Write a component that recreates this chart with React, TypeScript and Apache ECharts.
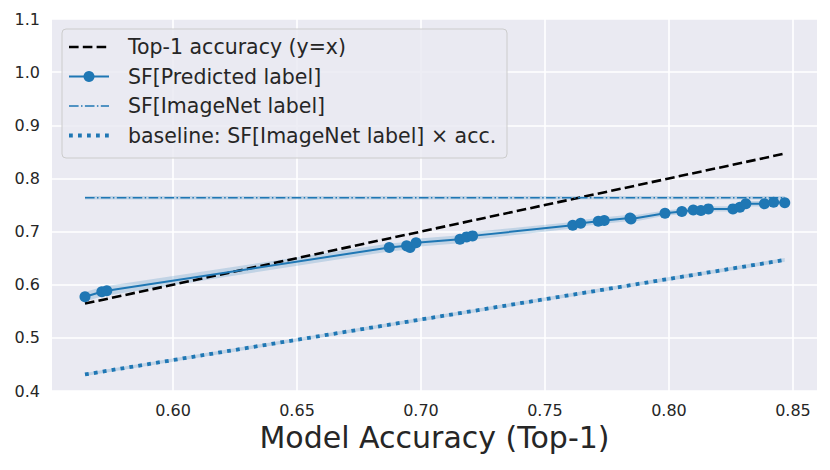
import React, { useEffect, useRef } from "react";
import * as echarts from "echarts";

// ---- data ----
const xTicks = [0.6, 0.65, 0.7, 0.75, 0.8, 0.85];
const yTicks = [0.4, 0.5, 0.6, 0.7, 0.8, 0.9, 1.0, 1.1];

const predX = [0.5645, 0.5713, 0.5733, 0.6872, 0.6942, 0.6956, 0.698, 0.7157, 0.7184, 0.7208, 0.7612, 0.7644, 0.7715, 0.7739, 0.7843, 0.7847, 0.7984, 0.8052, 0.8098, 0.8129, 0.8159, 0.8258, 0.8286, 0.831, 0.8385, 0.8422, 0.8467];
const predY = [0.5773, 0.5867, 0.5885, 0.6701, 0.6731, 0.6701, 0.6788, 0.6857, 0.69, 0.6919, 0.712, 0.7158, 0.7195, 0.7209, 0.7257, 0.7237, 0.7346, 0.7378, 0.7408, 0.7397, 0.7427, 0.7427, 0.7459, 0.7523, 0.7523, 0.7553, 0.7541];
const predLower = [0.5683, 0.5777, 0.5795, 0.6626, 0.6656, 0.6626, 0.6713, 0.6782, 0.6825, 0.6844, 0.706, 0.7098, 0.7135, 0.7149, 0.7197, 0.7177, 0.7296, 0.7328, 0.7358, 0.7347, 0.7377, 0.7377, 0.7409, 0.7473, 0.7473, 0.7503, 0.7491];
const predUpper = [0.5863, 0.5957, 0.5975, 0.6776, 0.6806, 0.6776, 0.6863, 0.6932, 0.6975, 0.6994, 0.718, 0.7218, 0.7255, 0.7269, 0.7317, 0.7297, 0.7396, 0.7428, 0.7458, 0.7447, 0.7477, 0.7477, 0.7509, 0.7573, 0.7573, 0.7603, 0.7591];

const top1X = [0.5645, 0.8467];
const top1Y = [0.5645, 0.8467];

const imgX = [0.5645, 0.8467];
const imgY = [0.7637, 0.7637];
const imgLower = [0.7605, 0.7605];
const imgUpper = [0.7669, 0.7669];

const baseX = [0.5645, 0.8467];
const baseY = [0.4311, 0.6466];
const baseLower = [0.4281, 0.6431];
const baseUpper = [0.4341, 0.6501];

const legendLabels = [
  "Top-1 accuracy (y=x)",
  "SF[Predicted label]",
  "SF[ImageNet label]",
  "baseline: SF[ImageNet label] × acc.",
];

const BLUE = "#1f77b4";
const FONT = "DejaVu Sans";
const TXT = "#262626";

const zip = (xs: number[], ys: number[]) => xs.map((x, i) => [x, ys[i]]);

function bandSeries(xs: number[], lo: number[], hi: number[]) {
  return {
    type: "custom",
    silent: true,
    data: [[xs[0], lo[0]]],
    renderItem: (_params: any, api: any) => {
      const pts: number[][] = [];
      for (let i = 0; i < xs.length; i++) pts.push(api.coord([xs[i], hi[i]]));
      for (let i = xs.length - 1; i >= 0; i--) pts.push(api.coord([xs[i], lo[i]]));
      return {
        type: "polygon",
        shape: { points: pts },
        style: { fill: BLUE, opacity: 0.2, stroke: "none" },
      };
    },
  };
}

export default function App() {
  const ref = useRef<HTMLDivElement>(null);
  useEffect(() => {
    if (!ref.current) return;
    const chart = echarts.init(ref.current, undefined, { renderer: "svg" });
    const legendRows = [18, 47.5, 77, 106.5];
    const hx0 = 7, hx1 = 47, tx = 66;
    const Z = 100;
    const legendChildren: any[] = [
      {
        type: "rect",
        z: Z,
        shape: { x: 0, y: 0, width: 445, height: 129, r: 4 },
        style: { fill: "rgba(234,234,242,0.85)", stroke: "#cccccc", lineWidth: 1 },
      },
      {
        type: "line",
        z: Z + 1,
        shape: { x1: hx0, y1: legendRows[0], x2: hx1, y2: legendRows[0] },
        style: { stroke: "#000", lineWidth: 2.6, lineDash: [9.6, 4.2] },
      },
      {
        type: "line",
        z: Z + 1,
        shape: { x1: hx0, y1: legendRows[1], x2: hx1, y2: legendRows[1] },
        style: { stroke: BLUE, lineWidth: 2 },
      },
      {
        type: "circle",
        z: Z + 2,
        shape: { cx: (hx0 + hx1) / 2, cy: legendRows[1], r: 5.5 },
        style: { fill: BLUE },
      },
      {
        type: "line",
        z: Z + 1,
        shape: { x1: hx0, y1: legendRows[2], x2: hx1, y2: legendRows[2] },
        style: { stroke: BLUE, lineWidth: 1.6, lineDash: [9.6, 2.4, 1.5, 2.4] },
      },
      {
        type: "line",
        z: Z + 1,
        shape: { x1: hx0, y1: legendRows[3], x2: hx1, y2: legendRows[3] },
        style: { stroke: BLUE, lineWidth: 3.8, lineDash: [3.8, 5.2] },
      },
    ];
    legendLabels.forEach((t, i) => {
      legendChildren.push({
        type: "text",
        z: Z + 1,
        x: tx,
        y: legendRows[i],
        style: {
          text: t,
          fontFamily: FONT,
          fontSize: 20.5,
          fill: TXT,
          verticalAlign: "middle",
          align: "left",
        },
      });
    });

    chart.setOption({
      animation: false,
      grid: {
        left: 52,
        right: 13,
        top: 19,
        bottom: 79,
        show: true,
        backgroundColor: "#EAEAF2",
        borderWidth: 0,
        containLabel: false,
        outerBoundsMode: "none",
      },
      xAxis: {
        type: "value",
        min: 0.5512,
        max: 0.8597,
        name: "Model Accuracy (Top-1)",
        nameLocation: "middle",
        nameGap: 27,
        nameTextStyle: { fontFamily: FONT, fontSize: 30, color: TXT },
        axisLine: { show: false },
        axisTick: { show: false, customValues: xTicks },
        axisLabel: {
          customValues: xTicks,
          fontFamily: FONT,
          fontSize: 16,
          color: TXT,
          margin: 11,
          formatter: (v: number) => v.toFixed(2),
        },
        splitLine: { show: true, lineStyle: { color: "#ffffff", width: 1.6 } },
      },
      yAxis: {
        type: "value",
        min: yTicks[0],
        max: yTicks[yTicks.length - 1],
        interval: 0.1,
        axisLine: { show: false },
        axisTick: { show: false },
        axisLabel: {
          fontFamily: FONT,
          fontSize: 16,
          color: TXT,
          margin: 12,
          formatter: (v: number) => v.toFixed(1),
        },
        splitLine: { show: true, lineStyle: { color: "#ffffff", width: 1.6 } },
      },
      series: [
        bandSeries(predX, predLower, predUpper),
        bandSeries(imgX, imgLower, imgUpper),
        bandSeries(baseX, baseLower, baseUpper),
        {
          type: "line",
          name: legendLabels[0],
          data: zip(top1X, top1Y),
          symbol: "none",
          lineStyle: { color: "#000", width: 2.6, type: [9.6, 4.2] },
        },
        {
          type: "line",
          name: legendLabels[1],
          data: zip(predX, predY),
          symbol: "circle",
          symbolSize: 11,
          itemStyle: { color: BLUE },
          lineStyle: { color: BLUE, width: 2 },
        },
        {
          type: "line",
          name: legendLabels[2],
          data: zip(imgX, imgY),
          symbol: "none",
          lineStyle: { color: BLUE, width: 1.6, type: [9.6, 2.4, 1.5, 2.4] },
        },
        {
          type: "line",
          name: legendLabels[3],
          data: zip(baseX, baseY),
          symbol: "none",
          lineStyle: { color: BLUE, width: 3.8, type: [3.8, 5.2] },
        },
      ],
      graphic: [
        { type: "group", x: 62, y: 29, z: Z, children: legendChildren },
      ],
    });
    return () => chart.dispose();
  }, []);
  return (
    <div
      ref={ref}
      style={{ position: "fixed", left: 0, top: 0, width: 830, height: 470, background: "#fff" }}
    />
  );
}
